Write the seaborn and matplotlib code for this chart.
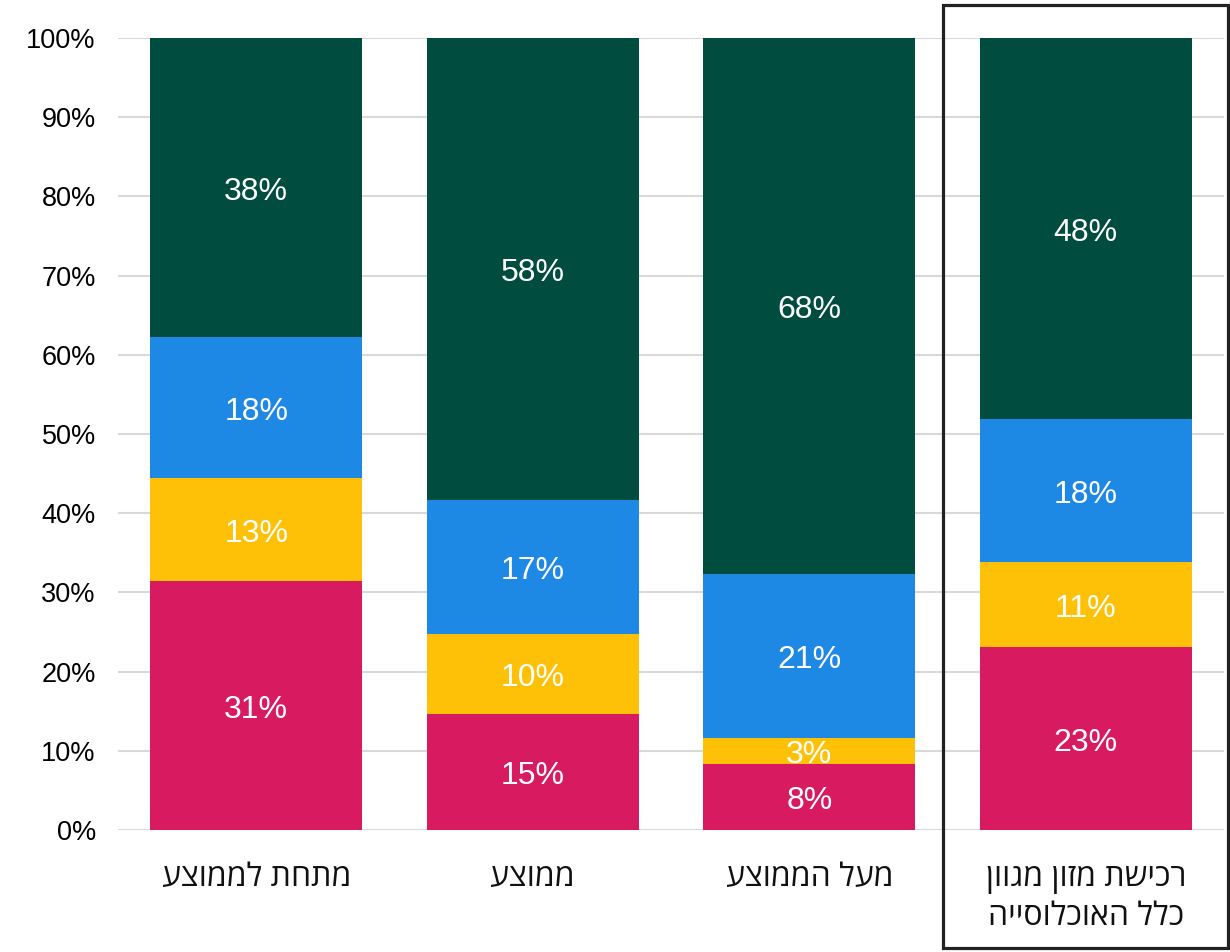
import matplotlib
matplotlib.use("Agg")
import matplotlib.pyplot as plt
import seaborn as sns
import pandas as pd
import numpy as np
from matplotlib.patches import Rectangle
from matplotlib.transforms import offset_copy

categories = ["מתחת לממוצע", "ממוצע", "מעל הממוצע", "רכישת מזון מגוון\nכלל האוכלוסייה"]
red_vals = [31.4, 14.6, 8.3, 23.1]
yellow_vals = [13.1, 10.2, 3.3, 10.7]
blue_vals = [17.7, 16.9, 20.7, 18.1]
green_vals = [37.8, 58.3, 67.7, 48.1]
y_ticks = [0, 10, 20, 30, 40, 50, 60, 70, 80, 90, 100]

colors = ["#D81B60", "#FFC107", "#1E88E5", "#004D40"]

sns.set_theme(style="white")
plt.rcParams['font.family'] = ['Liberation Sans', 'DejaVu Sans']


def visual_rtl(s):
    return "\n".join(line[::-1] for line in s.split("\n"))


layers = [red_vals, yellow_vals, blue_vals, green_vals]
cum = np.cumsum(np.array(layers), axis=0)

fig = plt.figure(figsize=(12.3, 9.52), dpi=100)
ax = fig.add_axes([118 / 1230, (952 - 830) / 952, (1224 - 118) / 1230, (830 - 38) / 952])

xcats = [f"c{i}" for i in range(len(categories))]
for li in range(len(layers) - 1, -1, -1):
    df = pd.DataFrame({"cat": xcats, "val": cum[li]})
    sns.barplot(data=df, x="cat", y="val", color=colors[li], saturation=1,
                width=0.766, ax=ax, zorder=3, linewidth=0)

lbl_trans = offset_copy(ax.transData, fig=fig, x=0, y=-3, units="points")
for li in range(len(layers)):
    for i in range(len(categories)):
        v = layers[li][i]
        bottom = cum[li][i] - v
        ax.text(i, bottom + v / 2, f"{int(v + 0.5)}%", ha="center", va="center",
                color="white", fontsize=23, zorder=5, transform=lbl_trans)

ax.set_ylim(0, 100)
ax.set_xlim(-0.5, 3.5)
ax.set_yticks(y_ticks)
ax.set_yticklabels([f"{t}%" for t in y_ticks], fontsize=19.5, color="black")
ax.set_xticks(range(len(categories)))
ax.set_xticklabels([visual_rtl(c) for c in categories], fontsize=23, color="#111111",
                   family=['Open Sans', 'DejaVu Sans'], va="top", linespacing=1.25)
ax.tick_params(axis="x", length=0, pad=22)
ax.tick_params(axis="y", length=0, pad=16)
ax.set_xlabel("")
ax.set_ylabel("")
ax.yaxis.grid(True, color="#d9d9d9", linewidth=1.5, zorder=0)
ax.set_axisbelow(True)
for sp in ax.spines.values():
    sp.set_visible(False)

fig.patches.append(Rectangle((943 / 1230, (952 - 948) / 952), (1228 - 943) / 1230, (948 - 5) / 952,
                             transform=fig.transFigure, fill=False, edgecolor="#222222",
                             linewidth=2.3, zorder=10))

fig.savefig("out.png", dpi=100)
